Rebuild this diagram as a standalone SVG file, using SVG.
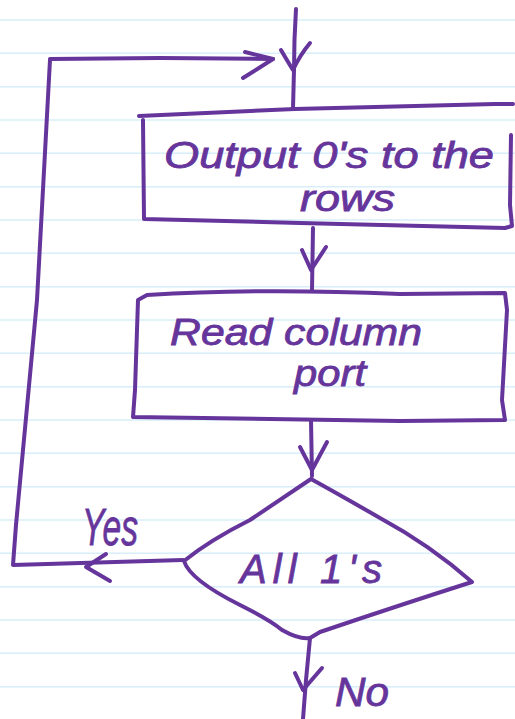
<svg xmlns="http://www.w3.org/2000/svg" width="515" height="719" viewBox="0 0 515 719">
<style>
.ink{fill:none;stroke:#65359b;stroke-width:4;stroke-linecap:round;stroke-linejoin:round}
.rule{stroke:#d8eefa;stroke-width:1.5}
.t{font-family:"Liberation Sans","DejaVu Sans",sans-serif;font-style:italic;fill:#65359b;stroke:#65359b;stroke-width:0.8;font-size:36px}
</style>
<rect width="515" height="719" fill="#ffffff"/>
<g id="paper">
<line class="rule" x1="0" y1="20" x2="515" y2="20"/>
<line class="rule" x1="0" y1="53.3" x2="515" y2="53.3"/>
<line class="rule" x1="0" y1="86.7" x2="515" y2="86.7"/>
<line class="rule" x1="0" y1="120" x2="515" y2="120"/>
<line class="rule" x1="0" y1="153.3" x2="515" y2="153.3"/>
<line class="rule" x1="0" y1="186.7" x2="515" y2="186.7"/>
<line class="rule" x1="0" y1="220" x2="515" y2="220"/>
<line class="rule" x1="0" y1="253.3" x2="515" y2="253.3"/>
<line class="rule" x1="0" y1="286.7" x2="515" y2="286.7"/>
<line class="rule" x1="0" y1="320" x2="515" y2="320"/>
<line class="rule" x1="0" y1="353.3" x2="515" y2="353.3"/>
<line class="rule" x1="0" y1="386.7" x2="515" y2="386.7"/>
<line class="rule" x1="0" y1="420" x2="515" y2="420"/>
<line class="rule" x1="0" y1="453.3" x2="515" y2="453.3"/>
<line class="rule" x1="0" y1="486.7" x2="515" y2="486.7"/>
<line class="rule" x1="0" y1="520" x2="515" y2="520"/>
<line class="rule" x1="0" y1="553.3" x2="515" y2="553.3"/>
<line class="rule" x1="0" y1="586.7" x2="515" y2="586.7"/>
<line class="rule" x1="0" y1="620" x2="515" y2="620"/>
<line class="rule" x1="0" y1="653.3" x2="515" y2="653.3"/>
<line class="rule" x1="0" y1="686.7" x2="515" y2="686.7"/>
</g>
<g id="connectors">
<path class="ink" d="M296,9 Q294,40 294,70 L293,108"/>
<path class="ink" d="M281,50 Q288,62 293,70 Q300,55 310,43"/>
<path class="ink" d="M50,60 L37,300 L16,525 L13,565 L183,560"/>
<path class="ink" d="M50,59 L160,58 L273,59"/>
<path class="ink" d="M245,52 L273,59 L243,78"/>
<path class="ink" d="M313,228 L312,290"/>
<path class="ink" d="M302,250 L311,270 L326,247"/>
<path class="ink" d="M311,420 L312,476"/>
<path class="ink" d="M300,447 L312,470 L327,442"/>
<path class="ink" d="M106,554 L86,567 L110,581"/>
<path class="ink" d="M310,638 L306,680 L303,719"/>
<path class="ink" d="M295,673 L303,690 L322,668"/>
</g>
<g id="box1">
<path class="ink" d="M139,116 L295,109 L495,104 L513,104 M143,120 L144,219 L300,223 L505,228 L512,226 L510,205 L511,135"/>
<text class="t" x="164" y="168" textLength="330" lengthAdjust="spacingAndGlyphs">Output 0's to the</text>
<text class="t" x="300" y="211" textLength="95" lengthAdjust="spacingAndGlyphs">rows</text>
</g>
<g id="box2">
<path class="ink" d="M147,295 Q260,288 400,294 L505,293 L507,310 L502,400 L505,420 L400,421 L133,417 L135,390 L138,300 Z"/>
<text class="t" x="170" y="345" textLength="252" lengthAdjust="spacingAndGlyphs">Read column</text>
<text class="t" x="294" y="386" textLength="72" lengthAdjust="spacingAndGlyphs">port</text>
</g>
<g id="decision">
<path class="ink" d="M311,479 Q280,500 250,520 Q210,540 184,561 Q190,580 240,605 Q270,620 282,630 Q300,640 310,638 L320,632 Q400,605 472,582 Q430,545 380,518 Q340,495 311,479 Z"/>
<text class="t" x="240" y="583" style="font-size:40px" textLength="142" lengthAdjust="spacing">All  1's</text>
</g>
<g id="labels">
<text class="t" x="82" y="545" style="font-size:52px" textLength="56" lengthAdjust="spacingAndGlyphs">Yes</text>
<text class="t" x="335" y="706" style="font-size:40px" textLength="54" lengthAdjust="spacingAndGlyphs">No</text>
</g>
</svg>
